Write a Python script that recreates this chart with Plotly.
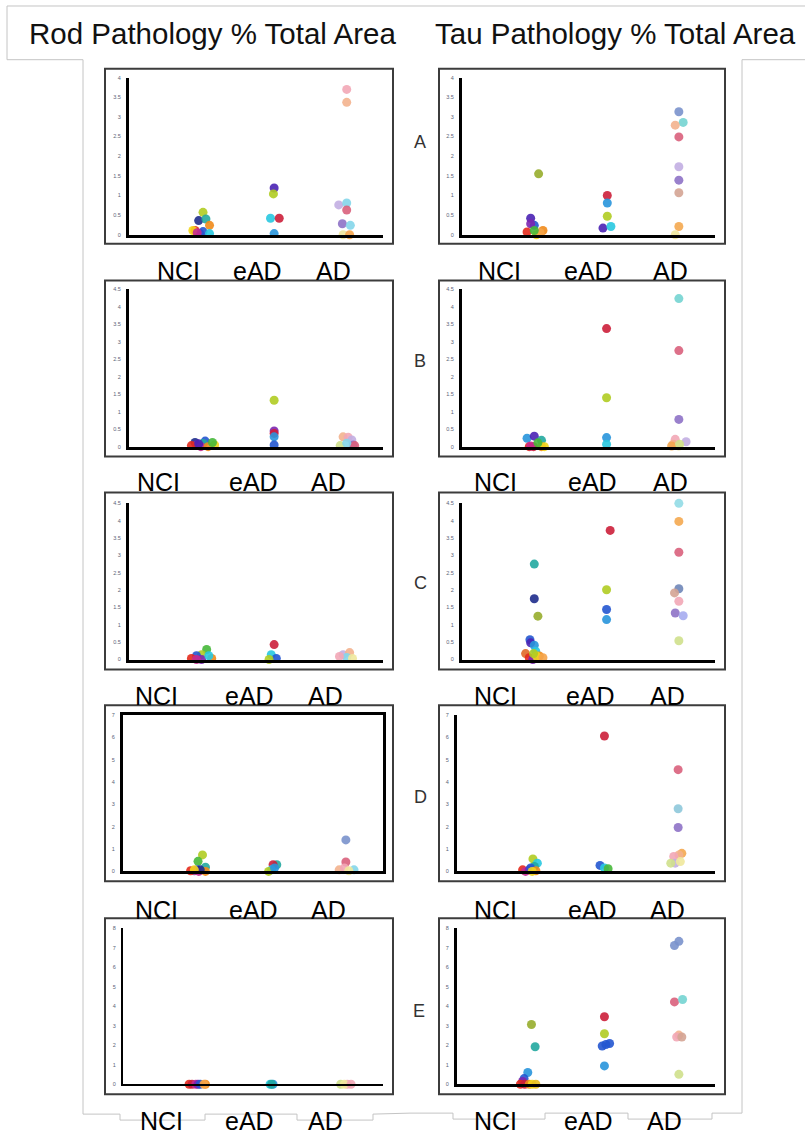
import plotly.graph_objects as go

W, H = 805, 1138


def px(x):
    return x / W


def py(y):
    return 1 - y / H


GROUPS = ["NCI", "eAD", "AD"]
ROW_LETTERS = ["A", "B", "C", "D", "E"]
TITLES = ["Rod Pathology % Total Area", "Tau Pathology % Total Area"]
Y_MAX = [4, 4.5, 4.5, 7, 8]
Y_DTICK = [0.5, 0.5, 0.5, 1, 1]

PAL = {
    'red': '#e42a1c', 'crimson': '#cc1f3a', 'orange': '#f08a1a', 'sandy': '#f5a44a',
    'yellow': '#f2d51c', 'gold': '#e8c020', 'ygreen': '#b0cc22', 'olive': '#97ad2c',
    'green': '#46b83a', 'teal': '#22a8a0', 'cyan': '#28c8e0', 'sky': '#2895dc',
    'blue': '#2456d0', 'navy': '#1e2c8c', 'indigo': '#4a22b4', 'purple': '#7c26b0',
    'magenta': '#c42a90', 'choc': '#e06a28',
    'lpink': '#f2a7b6', 'peach': '#f3b38e', 'lav': '#c2aee2', 'lcyan': '#84d6ea',
    'rose': '#d9607c', 'mpurple': '#8e72c6', 'lyellow': '#efe89c', 'slate': '#7a92cc',
    'turq': '#74d4d2', 'tan': '#d4a494', 'pgreen': '#cfe08c', 'periw': '#a6acf0',
    'steel': '#6f86b8', 'powder': '#8ec8da', 'paleturq': '#92dce6', 'lsandy': '#f4a850',
}

# ---------------- Rod pathology ----------------
rodA_grp = [1, 1, 1, 1, 1, 1, 1, 1, 1, 1, 2, 2, 2, 2, 2, 3, 3, 3, 3, 3, 3, 3, 3, 3]
rodA_off = [0.02, -0.04, 0.06, 0.11, -0.09, -0.02, 0.02, 0.11, -0.12, -0.06,
            0, -0.01, -0.05, 0.07, 0,
            0, 0, -0.11, 0, 0, -0.06, 0.05, -0.05, 0.04]
rodA_val = [0.57, 0.36, 0.40, 0.24, 0.11, 0.03, 0.08, 0.03, 0.11, 0.05,
            1.19, 1.04, 0.42, 0.42, 0.03,
            3.70, 3.37, 0.76, 0.81, 0.63, 0.28, 0.24, 0.0, 0.0]
rodA_col = ['ygreen', 'navy', 'teal', 'orange', 'red', 'purple', 'blue', 'cyan', 'yellow', 'magenta',
            'indigo', 'ygreen', 'cyan', 'crimson', 'sky',
            'lpink', 'peach', 'lav', 'lcyan', 'rose', 'mpurple', 'lcyan', 'lyellow', 'sandy']

rodB_grp = [1, 1, 1, 1, 1, 1, 1, 1, 1, 1, 2, 2, 2, 2, 2, 3, 3, 3, 3, 3, 3, 3]
rodB_off = [-0.09, 0.05, 0.02, -0.07, -0.01, 0.09, 0.18, 0.15, -0.14, -0.04,
            0, 0, 0, 0, 0,
            -0.05, 0.02, 0.07, 0.09, 0.11, -0.09, 0]
rodB_val = [0.12, 0.16, 0.09, 0.05, 0.0, 0.0, 0.05, 0.12, 0.03, 0.08,
            1.33, 0.45, 0.38, 0.28, 0.05,
            0.28, 0.27, 0.19, 0.05, 0.03, 0.03, 0.10]
rodB_col = ['navy', 'blue', 'teal', 'purple', 'magenta', 'orange', 'yellow', 'green', 'red', 'indigo',
            'ygreen', 'purple', 'crimson', 'sky', 'blue',
            'peach', 'lpink', 'lav', 'mpurple', 'rose', 'pgreen', 'lcyan']

rodC_grp = [1, 1, 1, 1, 1, 1, 1, 1, 2, 2, 2, 2, 3, 3, 3, 3, 3]
rodC_off = [0.07, 0, -0.07, 0, -0.14, 0.14, 0.1, -0.07,
            0, -0.04, 0.03, -0.07,
            -0.05, 0.04, 0, -0.1, 0.08]
rodC_val = [0.29, 0.14, 0.11, 0.0, 0.03, 0.03, 0.11, 0.0,
            0.43, 0.14, 0.03, 0.0,
            0.14, 0.20, 0.06, 0.09, 0.03]
rodC_col = ['green', 'ygreen', 'blue', 'purple', 'red', 'orange', 'cyan', 'magenta',
            'crimson', 'cyan', 'blue', 'ygreen',
            'lav', 'peach', 'lcyan', 'lpink', 'lyellow']

rodD_grp = [1, 1, 1, 1, 1, 1, 1, 1, 1, 1, 2, 2, 2, 2, 2, 3, 3, 3, 3, 3, 3]
rodD_off = [0.07, 0.01, 0.11, 0, -0.04, -0.09, 0.02, 0.11, 0.04, -0.04,
            0.07, 0.02, 0, -0.04, 0.04,
            0, 0, -0.09, -0.02, 0.11, 0.04]
rodD_val = [0.74, 0.45, 0.19, 0.07, 0.03, 0.03, 0.0, 0.0, 0.07, 0.07,
            0.30, 0.30, 0.07, 0.0, 0.15,
            1.41, 0.42, 0.07, 0.15, 0.07, 0.03]
rodD_col = ['ygreen', 'green', 'teal', 'blue', 'purple', 'red', 'magenta', 'orange', 'navy', 'yellow',
            'teal', 'crimson', 'cyan', 'ygreen', 'sky',
            'slate', 'rose', 'peach', 'lpink', 'lcyan', 'lyellow']

rodE_grp = [1, 1, 1, 1, 1, 1, 1, 2, 2, 2, 3, 3, 3, 3]
rodE_off = [-0.11, -0.07, -0.02, 0.01, 0.04, 0.11, 0.09,
            -0.02, 0.02, 0,
            -0.07, 0.02, -0.02, 0.07]
rodE_val = [0.0, 0.0, 0.0, 0.0, 0.0, 0.0, 0.0,
            0.0, 0.0, 0.0,
            0.0, 0.0, 0.0, 0.0]
rodE_col = ['red', 'crimson', 'magenta', 'purple', 'blue', 'orange', 'sandy',
            'cyan', 'sky', 'teal',
            'pgreen', 'lpink', 'lyellow', 'lpink']

# ---------------- Tau pathology ----------------
tauA_grp = [1, 1, 1, 1, 1, 1, 1, 1, 1, 2, 2, 2, 2, 2, 3, 3, 3, 3, 3, 3, 3, 3, 3]
tauA_off = [0.06, -0.05, 0, -0.05, -0.1, 0.12, 0.03, 0.08, 0,
            0.01, 0.01, 0.01, -0.05, 0.06,
            0, 0.06, -0.05, 0, 0, 0, 0, 0, -0.05]
tauA_val = [1.55, 0.42, 0.24, 0.28, 0.07, 0.11, 0.0, 0.05, 0.11,
            1.00, 0.81, 0.47, 0.17, 0.21,
            3.13, 2.86, 2.79, 2.49, 1.73, 1.39, 1.07, 0.21, 0.0]
tauA_col = ['olive', 'indigo', 'blue', 'purple', 'red', 'orange', 'yellow', 'sandy', 'green',
            'crimson', 'sky', 'ygreen', 'indigo', 'cyan',
            'slate', 'turq', 'peach', 'rose', 'lav', 'mpurple', 'tan', 'lsandy', 'lyellow']

tauB_grp = [1, 1, 1, 1, 1, 1, 1, 1, 1, 2, 2, 2, 2, 3, 3, 3, 3, 3, 3, 3, 3, 3]
tauB_off = [-0.1, 0, 0.1, -0.07, -0.01, 0.1, 0.14, -0.05, 0.05,
            0, 0, 0, 0,
            0, 0, 0, -0.05, -0.08, 0, 0.1, -0.1, 0.01]
tauB_val = [0.24, 0.30, 0.18, 0.0, 0.0, 0.0, 0.0, 0.02, 0.11,
            3.38, 1.40, 0.26, 0.07,
            4.24, 2.75, 0.78, 0.21, 0.07, 0.02, 0.14, 0.02, 0.07]
tauB_col = ['sky', 'indigo', 'teal', 'red', 'crimson', 'orange', 'yellow', 'magenta', 'green',
            'crimson', 'ygreen', 'sky', 'cyan',
            'turq', 'rose', 'mpurple', 'lpink', 'peach', 'lyellow', 'lav', 'lsandy', 'pgreen']

tauC_grp = [1, 1, 1, 1, 1, 1, 1, 1, 1, 1, 1, 1, 1, 1, 2, 2, 2, 2, 3, 3, 3, 3, 3, 3, 3, 3, 3]
tauC_off = [0, 0, 0.05, -0.06, -0.05, 0, 0.02, -0.12, 0.07, -0.07, -0.02, 0.03, -0.01, 0.12,
            0.05, 0, 0, 0,
            0, 0, 0, 0, -0.06, 0, -0.05, 0.06, 0]
tauC_val = [2.75, 1.75, 1.25, 0.57, 0.48, 0.41, 0.24, 0.17, 0.10, 0.05, 0.0, 0.10, 0.17, 0.05,
            3.72, 2.01, 1.44, 1.15,
            4.50, 3.98, 3.09, 2.04, 1.92, 1.68, 1.34, 1.26, 0.54]
tauC_col = ['teal', 'navy', 'olive', 'blue', 'indigo', 'sky', 'cyan', 'choc', 'orange', 'red',
            'purple', 'yellow', 'ygreen', 'sandy',
            'crimson', 'ygreen', 'blue', 'sky',
            'paleturq', 'lsandy', 'rose', 'steel', 'tan', 'lpink', 'mpurple', 'periw', 'pgreen']

tauD_grp = [1, 1, 1, 1, 1, 1, 1, 1, 1, 2, 2, 2, 2, 3, 3, 3, 3, 3, 3, 3, 3, 3]
tauD_off = [0.03, 0.09, 0.05, -0.11, -0.07, -0.02, 0, 0.07, 0.02,
            0, -0.06, 0, 0.05,
            0, 0, 0, 0.05, 0.01, -0.06, -0.04, -0.1, 0.03]
tauD_val = [0.56, 0.37, 0.22, 0.07, 0.0, 0.07, 0.15, 0.03, 0.0,
            6.07, 0.27, 0.15, 0.12,
            4.56, 2.81, 1.97, 0.81, 0.74, 0.67, 0.37, 0.37, 0.44]
tauD_col = ['ygreen', 'cyan', 'teal', 'red', 'magenta', 'purple', 'blue', 'orange', 'yellow',
            'crimson', 'blue', 'cyan', 'green',
            'rose', 'powder', 'mpurple', 'lsandy', 'peach', 'lpink', 'lav', 'pgreen', 'lyellow']

tauE_grp = [1, 1, 1, 1, 1, 1, 1, 1, 1, 1, 2, 2, 2, 2, 2, 2, 3, 3, 3, 3, 3, 3, 3, 3]
tauE_off = [0.01, 0.06, -0.04, -0.09, -0.11, -0.14, -0.08, -0.02, 0.02, 0.07,
            0, 0, -0.03, 0.02, 0.07, 0,
            -0.05, 0.01, -0.05, 0.06, 0.01, -0.02, 0.05, 0.01]
tauE_val = [3.06, 1.92, 0.60, 0.29, 0.14, 0.0, 0.0, 0.0, 0.0, 0.0,
            3.46, 2.59, 1.96, 2.04, 2.09, 0.94,
            7.11, 7.32, 4.22, 4.34, 2.52, 2.42, 2.42, 0.51]
tauE_col = ['olive', 'teal', 'sky', 'blue', 'purple', 'red', 'crimson', 'orange', 'yellow', 'gold',
            'crimson', 'ygreen', 'blue', 'blue', 'blue', 'sky',
            'slate', 'slate', 'rose', 'turq', 'peach', 'lpink', 'tan', 'pgreen']

PANELS = [
    [(rodA_grp, rodA_off, rodA_val, rodA_col), (tauA_grp, tauA_off, tauA_val, tauA_col)],
    [(rodB_grp, rodB_off, rodB_val, rodB_col), (tauB_grp, tauB_off, tauB_val, tauB_col)],
    [(rodC_grp, rodC_off, rodC_val, rodC_col), (tauC_grp, tauC_off, tauC_val, tauC_col)],
    [(rodD_grp, rodD_off, rodD_val, rodD_col), (tauD_grp, tauD_off, tauD_val, tauD_col)],
    [(rodE_grp, rodE_off, rodE_val, rodE_col), (tauE_grp, tauE_off, tauE_val, tauE_col)],
]

# ---------------- geometry (pixels) ----------------
ROW_PLOT_Y = [(75, 233), (288, 446), (503, 660), (716, 873), (930, 1087)]
COL_PLOT_X = [[(129, 383), (129, 383), (129, 383), (123, 383), (123, 383)],
              [(462, 715), (462, 715), (462, 715), (457, 715), (457, 715)]]
ROW_BOX_Y = [(66, 242), (279, 456), (492, 670), (706, 883), (920, 1097)]
COL_BOX_X = [(105, 393), (439, 725)]
LABEL_Y = [269, 482, 697, 912, 1124]
LABEL_X = [
    [(178, 257, 333), (158, 253, 328), (156, 249, 325), (156, 253, 328), (161, 249, 325)],
    [(499, 588, 670), (495, 592, 670), (496, 590, 667), (496, 592, 667), (496, 588, 664)],
]
LETTER_POS = [(420, 140), (420, 360), (420, 583), (420, 798), (419, 1013)]

fig = go.Figure()
layout = {}
shapes = []
annotations = []

for r in range(5):
    for c in range(2):
        n = r * 2 + c + 1
        grp, off, val, col = PANELS[r][c]
        fig.add_trace(go.Scatter(
            x=[g + o for g, o in zip(grp, off)], y=val, mode="markers",
            marker=dict(color=[PAL[k] for k in col], size=9, opacity=0.9, line=dict(width=0)),
            xaxis=f"x{n}", yaxis=f"y{n}", cliponaxis=False, showlegend=False,
            hoverinfo="skip"))
        x0, x1 = COL_PLOT_X[c][r]
        y0, y1 = ROW_PLOT_Y[r]
        lw = 2 if (r == 4 and c == 0) else 3
        mirror = (r == 3 and c == 0)
        layout[f"xaxis{n}"] = dict(domain=[px(x0), px(x1)], range=[0, 3.5], anchor=f"y{n}",
                                   showline=True, linecolor="black", linewidth=lw,
                                   mirror=mirror, showticklabels=False, showgrid=False,
                                   zeroline=False, ticks="")
        layout[f"yaxis{n}"] = dict(domain=[py(y1), py(y0)], range=[0, Y_MAX[r]], anchor=f"x{n}",
                                   dtick=Y_DTICK[r], tick0=0, showline=True, linecolor="black",
                                   linewidth=lw, mirror=mirror, showgrid=False, zeroline=False,
                                   ticks="", ticklabelstandoff=4,
                                   tickfont=dict(size=5.5, color="#5a6478",
                                                 family="Liberation Sans, Arial"))
        bx0, bx1 = COL_BOX_X[c]
        by0, by1 = ROW_BOX_Y[r]
        shapes.append(dict(type="rect", xref="paper", yref="paper", x0=px(bx0), x1=px(bx1),
                           y0=py(by1), y1=py(by0), line=dict(color="#3c3c3c", width=2),
                           layer="below"))
        for gi, g in enumerate(GROUPS):
            annotations.append(dict(text=g, x=px(LABEL_X[c][r][gi]), y=py(LABEL_Y[r]),
                                    xref="paper", yref="paper", showarrow=False,
                                    xanchor="center", yanchor="middle",
                                    font=dict(size=25, color="black",
                                              family="Liberation Sans, Arial")))
    lx, ly = LETTER_POS[r]
    annotations.append(dict(text=ROW_LETTERS[r], x=px(lx), y=py(ly), xref="paper", yref="paper",
                            showarrow=False, xanchor="center", yanchor="middle",
                            font=dict(size=18, color="#333333", family="Liberation Sans, Arial")))

for t, tx in zip(TITLES, [212, 615]):
    annotations.append(dict(text=t, x=px(tx), y=py(31), xref="paper", yref="paper",
                            showarrow=False, xanchor="center", yanchor="middle",
                            font=dict(size=29.5, color="#111111",
                                      family="Liberation Sans, Arial")))


def path(points):
    return "M " + " L ".join(f"{px(x):.5f},{py(y):.5f}" for x, y in points)


frame_pts = [(83, 1117), (83, 57), (7, 57), (7, 3), (805, 3)]
right_pts = [(805, 57), (742, 57), (742, 1116), (712, 1116), (712, 1122), (628, 1122),
             (628, 1116), (545, 1116), (545, 1122), (453, 1122), (453, 1116), (410, 1116)]
bottom_left = [(83, 1117), (120, 1117), (120, 1123), (205, 1123), (205, 1117), (297, 1117),
               (297, 1123), (373, 1123), (373, 1117), (410, 1116)]
for pts in (frame_pts, right_pts, bottom_left):
    shapes.append(dict(type="path", xref="paper", yref="paper", path=path(pts),
                       line=dict(color="#c4c4c4", width=1), layer="below"))

fig.update_layout(width=W, height=H, margin=dict(l=0, r=0, t=0, b=0),
                  paper_bgcolor="white", plot_bgcolor="white", showlegend=False,
                  shapes=shapes, annotations=annotations, **layout)

fig.write_html("out.html")
